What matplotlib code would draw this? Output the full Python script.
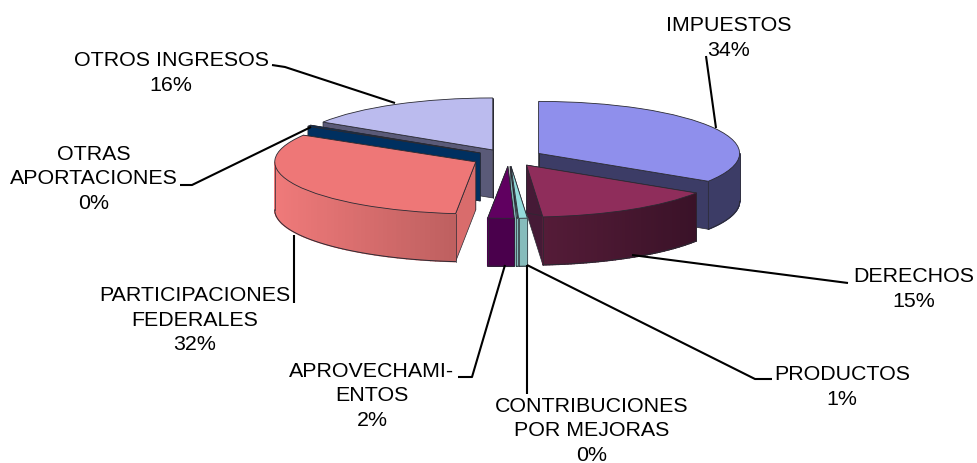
import numpy as np
import matplotlib
matplotlib.use("Agg")
import matplotlib.pyplot as plt
from matplotlib.colors import to_rgb
from matplotlib.transforms import Affine2D

# ---- data ----
categories = ["IMPUESTOS", "DERECHOS", "PRODUCTOS", "CONTRIBUCIONES\nPOR MEJORAS",
              "APROVECHAMI-\nENTOS", "PARTICIPACIONES\nFEDERALES",
              "OTRAS\nAPORTACIONES", "OTROS INGRESOS"]
values = [34, 14.7, 0.7, 0.1, 2.1, 32, 0.4, 16]

# ---- styles ----
top_colors = ["#8F8FEC", "#8F2D5B", "#94DCDC", "#94DCDC", "#600060", "#EE7777", "#003060", "#BBBBEE"]
side_colors = ["#3C3C66", "#451A36", "#80B4B4", "#80B4B4", "#4A004C", "#D96C6C", "#003060", "#5A5A78"]
wall_left = ["#3C3C66", "#551C38", "#86BCBC", "#86BCBC", "#4A004C", "#F07A7A", "#003060", "#5A5A78"]
wall_right = ["#3C3C66", "#3A1228", "#86BCBC", "#86BCBC", "#4A004C", "#BE6060", "#003060", "#5A5A78"]
draw_order = [7, 6, 0, 5, 1, 2, 3, 4]
EDGE = "#2a2a33"

# ---- layout (pixels) ----
W, H = 977, 464
CX, CY, RX, RY = 509, 158.6, 201, 52
DEPTH = 48 / RY
explode = [0.168, 0.168, 0.168, 0.168, 0.168, 0.185, 0.168, 0.168]
label_pos = [(729, 38), (914, 289), (842, 387), (592, 431), (372, 396), (195, 320), (94, 179), (171, 73)]
leaders = [
    [(706, 57), (716, 129)],
    [(848, 284), (632, 256)],
    [(772, 380), (755, 380), (527, 266)],
    [(527, 395), (527, 266)],
    [(458, 378), (472, 378), (505, 266)],
    [(294, 304), (294, 236)],
    [(180, 186), (192, 186), (311, 128)],
    [(272, 66), (285, 68), (395, 104)],
]

fig = plt.figure(figsize=(W / 100, H / 100), dpi=100, facecolor="white")
ax = fig.add_axes([0, 0, 1, 1])
wedges, _ = ax.pie(values, explode=explode, startangle=90, counterclock=False,
                   colors=top_colors, wedgeprops=dict(edgecolor=EDGE, linewidth=0.6))
ax.set_aspect("auto")
ax.set_xlim((0 - CX) / RX, (W - CX) / RX)
ax.set_ylim((CY - H) / RY, CY / RY)
ax.axis("off")
px = Affine2D().scale(1, -1).translate(0, H)  # top-left pixel coordinates

def mix(a, b, t):
    a, b = np.array(to_rgb(a)), np.array(to_rgb(b))
    return tuple(a + (b - a) * t)

for rank, i in enumerate(draw_order):
    w = wedges[i]
    z = 3 + rank * 3
    cx, cy = w.center
    # radial faces
    for th in (w.theta1, w.theta2):
        ex, ey = cx + np.cos(np.radians(th)), cy + np.sin(np.radians(th))
        ax.fill([cx, ex, ex, cx], [cy, ey, ey - DEPTH, cy - DEPTH], facecolor=side_colors[i],
                edgecolor=EDGE, linewidth=0.5, zorder=z)
    # outer wall, front half only
    a0, a1 = w.theta1 % 360, w.theta2 % 360
    if a1 <= a0:
        a1 += 360
    spans = []
    for base in (180, 540):
        lo, hi = max(a0, base), min(a1, base + 180)
        if hi > lo:
            spans.append((lo, hi))
    for lo, hi in spans:
        ts = np.radians(np.linspace(lo, hi, 60))
        xs, ys = cx + np.cos(ts), cy + np.sin(ts)
        xmin, xmax = xs.min(), xs.max()
        for k in range(len(ts) - 1):
            t = (0.5 * (xs[k] + xs[k + 1]) - xmin) / max(xmax - xmin, 1e-6)
            col = mix(wall_left[i], wall_right[i], t)
            ax.fill([xs[k], xs[k + 1], xs[k + 1], xs[k]],
                    [ys[k], ys[k + 1], ys[k + 1] - DEPTH, ys[k] - DEPTH],
                    facecolor=col, edgecolor=col, linewidth=1.0, zorder=z + 1)
        ax.plot(xs, ys - DEPTH, color=EDGE, lw=0.7, zorder=z + 1)
        ax.plot([xs[0], xs[0]], [ys[0], ys[0] - DEPTH], color=EDGE, lw=0.5, zorder=z + 1)
        ax.plot([xs[-1], xs[-1]], [ys[-1], ys[-1] - DEPTH], color=EDGE, lw=0.5, zorder=z + 1)
    w.set_zorder(z + 2)

# leader lines and labels
for pts in leaders:
    p = np.array(pts, float)
    ax.plot(p[:, 0], p[:, 1], color="black", lw=1.5, zorder=40, transform=px,
            solid_capstyle="butt", clip_on=False)

for name, v, (x, y) in zip(categories, values, label_pos):
    fig.text(x / W, 1 - y / H, f"{name}\n{round(v)}%", ha="center", va="center",
             family="Liberation Sans", fontsize=15.4, linespacing=1.37, color="black", zorder=50)

fig.savefig("out.png", dpi=100, facecolor="white")
